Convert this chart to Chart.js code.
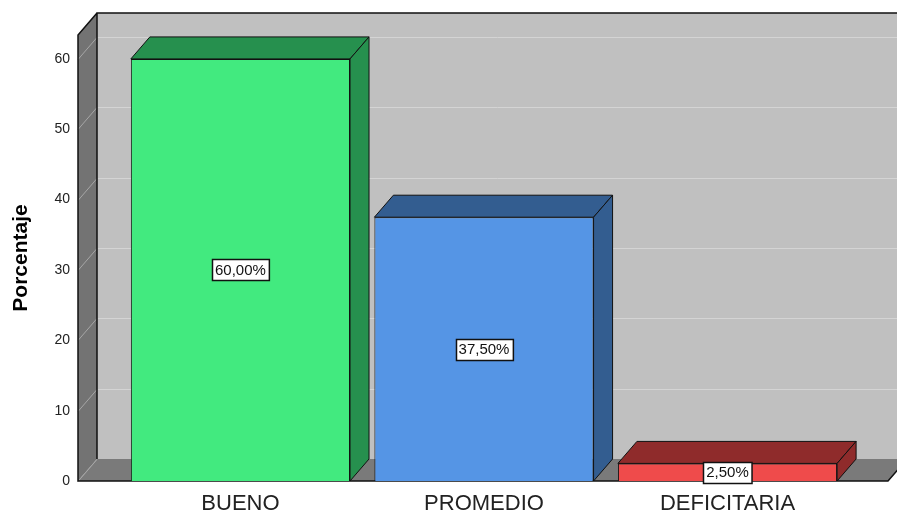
<!DOCTYPE html>
<html lang="es">
<head>
    <meta charset="UTF-8">
    <title>Porcentaje</title>
    <script src="https://cdn.jsdelivr.net/npm/chart.js"></script>
    <style>
        body {
            margin: 0;
            background: #ffffff;
            font-family: "Liberation Sans", Arial, sans-serif;
        }
        .chart-box {
            width: 897px;
            height: 513px;
        }
    </style>
</head>
<body>

    <div class="chart-box">
        <canvas id="barChart" width="897" height="513"></canvas>
    </div>

    <script>
        // datos
        const categories = ['BUENO', 'PROMEDIO', 'DEFICITARIA'];
        const percentages = [60.0, 37.5, 2.5];
        const yTicks = [0, 10, 20, 30, 40, 50, 60];

        const frontColors = ['#42ea7f', '#5595e5', '#ef4b4b'];
        const darkColors = ['#26904e', '#335d90', '#8f2b2b'];

        // profundidad 3D
        const DX = 19, DY = -22;

        const box3d = {
            id: 'box3d',
            beforeDatasetsDraw(chart) {
                const ctx = chart.ctx;
                const ca = chart.chartArea;
                const y = chart.scales.y;
                ctx.save();

                // pared de fondo
                ctx.fillStyle = '#c0c0c0';
                ctx.fillRect(ca.left + DX, ca.top + DY, ca.right - ca.left, ca.bottom - ca.top);

                // pared izquierda
                ctx.fillStyle = '#737373';
                ctx.beginPath();
                ctx.moveTo(ca.left, ca.top);
                ctx.lineTo(ca.left + DX, ca.top + DY);
                ctx.lineTo(ca.left + DX, ca.bottom + DY);
                ctx.lineTo(ca.left, ca.bottom);
                ctx.closePath();
                ctx.fill();

                // suelo
                ctx.fillStyle = '#7a7a7a';
                ctx.beginPath();
                ctx.moveTo(ca.left, ca.bottom);
                ctx.lineTo(ca.left + DX, ca.bottom + DY);
                ctx.lineTo(ca.right + DX, ca.bottom + DY);
                ctx.lineTo(ca.right, ca.bottom);
                ctx.closePath();
                ctx.fill();

                // lineas de cuadricula
                ctx.lineWidth = 1;
                yTicks.forEach(v => {
                    const py = Math.round(y.getPixelForValue(v)) + 0.5;
                    if (v > 0) {
                        ctx.strokeStyle = '#d4d4d4';
                        ctx.beginPath();
                        ctx.moveTo(ca.left + DX, py + DY);
                        ctx.lineTo(ca.right + DX, py + DY);
                        ctx.stroke();
                    }
                    ctx.strokeStyle = '#a6a6a6';
                    ctx.beginPath();
                    ctx.moveTo(ca.left, py);
                    ctx.lineTo(ca.left + DX, py + DY);
                    ctx.stroke();
                });

                // bordes
                ctx.strokeStyle = '#111';
                ctx.lineWidth = 1.5;
                ctx.beginPath();
                ctx.moveTo(ca.left + DX, ca.bottom + DY);
                ctx.lineTo(ca.left + DX, ca.top + DY);
                ctx.lineTo(ca.right + DX, ca.top + DY);
                ctx.moveTo(ca.left + DX, ca.top + DY);
                ctx.lineTo(ca.left, ca.top);
                ctx.lineTo(ca.left, ca.bottom);
                ctx.lineTo(ca.right, ca.bottom);
                ctx.lineTo(ca.right + DX, ca.bottom + DY);
                ctx.stroke();
                ctx.restore();
            },
            afterDatasetsDraw(chart) {
                const ctx = chart.ctx;
                const meta = chart.getDatasetMeta(0);
                ctx.save();
                meta.data.forEach((bar, i) => {
                    const p = bar.getProps(['x', 'y', 'base', 'width'], true);
                    const l = p.x - p.width / 2;
                    const r = p.x + p.width / 2;
                    ctx.fillStyle = darkColors[i];
                    ctx.strokeStyle = '#111';
                    ctx.lineWidth = 1;
                    // cara superior
                    ctx.beginPath();
                    ctx.moveTo(l, p.y);
                    ctx.lineTo(l + DX, p.y + DY);
                    ctx.lineTo(r + DX, p.y + DY);
                    ctx.lineTo(r, p.y);
                    ctx.closePath();
                    ctx.fill();
                    ctx.stroke();
                    // cara lateral
                    ctx.beginPath();
                    ctx.moveTo(r, p.y);
                    ctx.lineTo(r + DX, p.y + DY);
                    ctx.lineTo(r + DX, p.base + DY);
                    ctx.lineTo(r, p.base);
                    ctx.closePath();
                    ctx.fill();
                    ctx.stroke();
                });

                // etiquetas de valor
                ctx.font = '15px "Liberation Sans", Arial, sans-serif';
                ctx.textAlign = 'center';
                ctx.textBaseline = 'middle';
                meta.data.forEach((bar, i) => {
                    const p = bar.getProps(['x', 'y', 'base'], true);
                    const text = percentages[i].toFixed(2).replace('.', ',') + '%';
                    const cy = (p.y + p.base) / 2;
                    const w = ctx.measureText(text).width + 6;
                    const h = 21;
                    const bx = Math.round(p.x - w / 2) + 0.5;
                    const by = Math.round(cy - h / 2) + 0.5;
                    ctx.fillStyle = '#ffffff';
                    ctx.fillRect(bx, by, w, h);
                    ctx.strokeStyle = '#111';
                    ctx.lineWidth = 1.5;
                    ctx.strokeRect(bx, by, w, h);
                    ctx.fillStyle = '#111';
                    ctx.fillText(text, p.x, cy + 1);
                });
                ctx.restore();
            }
        };

        new Chart(document.getElementById('barChart'), {
            type: 'bar',
            data: {
                datasets: [{
                    data: categories.map((c, i) => ({ x: i, y: percentages[i] })),
                    backgroundColor: frontColors,
                    borderColor: '#111',
                    borderWidth: 1,
                    barPercentage: 0.9,
                    categoryPercentage: 1
                }]
            },
            options: {
                responsive: false,
                animation: false,
                layout: {
                    padding: { top: 35, right: 9, left: 0, bottom: 0 }
                },
                plugins: {
                    legend: { display: false },
                    tooltip: { enabled: false }
                },
                scales: {
                    x: {
                        type: 'linear',
                        offset: false,
                        min: -0.667,
                        max: 2.659,
                        afterBuildTicks: s => {
                            s.ticks = categories.map((c, i) => ({ value: i }));
                        },
                        afterFit: s => { s.height = 32; },
                        grid: { display: false, drawTicks: false, offset: false },
                        border: { display: false },
                        ticks: {
                            callback: v => categories[v],
                            font: { family: '"Liberation Sans", Arial, sans-serif', size: 22 },
                            color: '#222',
                            padding: 10,
                            maxRotation: 0,
                            autoSkip: false
                        }
                    },
                    y: {
                        min: 0,
                        max: 63.4,
                        afterBuildTicks: s => {
                            s.ticks = yTicks.map(v => ({ value: v }));
                        },
                        afterFit: s => { s.width = 78; },
                        grid: { display: false, drawTicks: false },
                        border: { display: false },
                        ticks: {
                            font: { family: '"Liberation Sans", Arial, sans-serif', size: 14 },
                            color: '#222',
                            padding: 8
                        },
                        title: {
                            display: true,
                            text: 'Porcentaje',
                            font: { family: '"Liberation Sans", Arial, sans-serif', size: 21, weight: 'bold' },
                            color: '#000',
                            padding: { top: 9, bottom: 0 }
                        }
                    }
                }
            },
            plugins: [box3d]
        });
    </script>

</body>
</html>
